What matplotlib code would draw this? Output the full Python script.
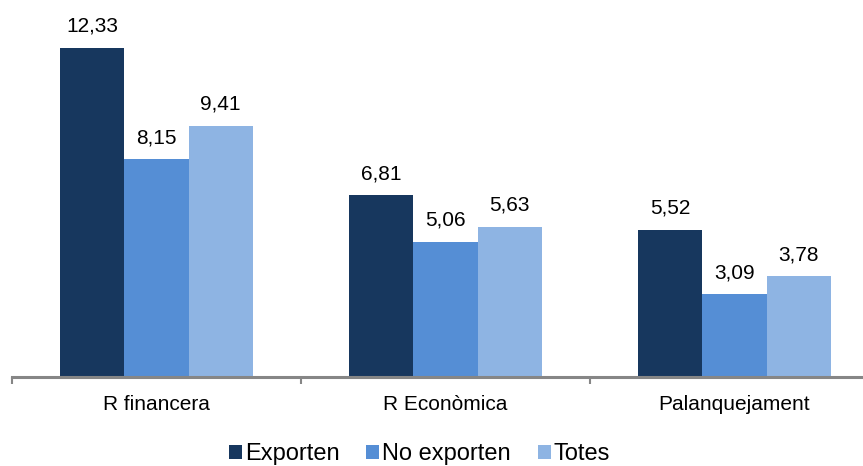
import matplotlib
matplotlib.use("Agg")
import matplotlib.pyplot as plt
import numpy as np

categories = ["R financera", "R Econòmica", "Palanquejament"]
series_names = ["Exporten", "No exporten", "Totes"]
exporten = [12.33, 6.81, 5.52]
no_exporten = [8.15, 5.06, 3.09]
totes = [9.41, 5.63, 3.78]
colors = ["#17375E", "#558ED5", "#8EB4E3"]

plt.rcParams['font.family'] = ['Liberation Sans', 'DejaVu Sans']

fig = plt.figure(figsize=(8.63, 4.66), dpi=100)
W, H = 863, 466
left_px, right_px = 12, 879
bottom_px, top_px = 377, 3
ax = fig.add_axes([left_px / W, 1 - bottom_px / H, (right_px - left_px) / W, (bottom_px - top_px) / H])

x = np.arange(len(categories))
bw = 2 / 9
data = [exporten, no_exporten, totes]
for i, (vals, name, c) in enumerate(zip(data, series_names, colors)):
    pos = x + (i - 1) * bw
    bars = ax.bar(pos, vals, width=bw, color=c, label=name, zorder=2)
    for b, v in zip(bars, vals):
        ax.annotate(f"{v:.2f}".replace(".", ","), (b.get_x() + b.get_width() / 2, v),
                    xytext=(0, 11.5), textcoords="offset points", ha="center", va="baseline",
                    fontsize=15, color="#000000")

ax.set_xlim(-0.5, 2.5)
ax.set_ylim(0, 14)
ax.set_yticks([])
for s in ["top", "right", "left"]:
    ax.spines[s].set_visible(False)
ax.spines["bottom"].set_color("#868686")
ax.spines["bottom"].set_linewidth(2.2)
ax.spines["bottom"].set_zorder(3)

ax.set_xticks(x)
ax.set_xticklabels(categories, fontsize=15)
ax.tick_params(axis="x", which="major", length=0, pad=13)
ax.set_xticks([-0.5, 0.5, 1.5, 2.5], minor=True)
ax.tick_params(axis="x", which="minor", length=5, width=1.5, color="#868686", direction="out")

fig.legend(loc="center", bbox_to_anchor=(419.5 / W, 1 - 454 / H), ncol=3, frameon=False,
           fontsize=17, handlelength=0.55, handleheight=0.55, handletextpad=0.13,
           columnspacing=1.14, borderaxespad=0, borderpad=0)

fig.savefig("out.png", dpi=100)
